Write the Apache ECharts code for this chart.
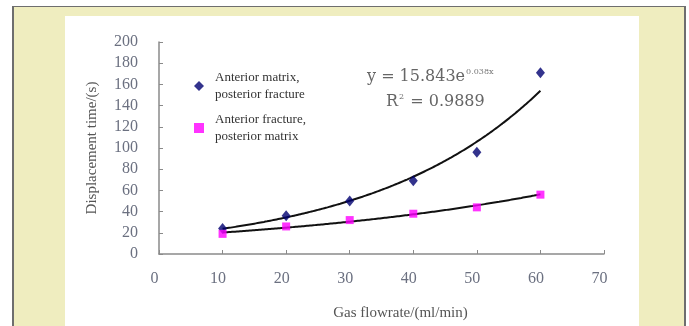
<!DOCTYPE html>
<html>
<head>
<meta charset="utf-8">
<script src="https://cdn.jsdelivr.net/npm/echarts@6/dist/echarts.min.js"></script>
<style>
  html, body { margin: 0; padding: 0; background: #ffffff; width: 689px; height: 326px; overflow: hidden; }
  #frame { position: absolute; left: 12px; top: 6px; width: 670px; height: 330px; background: #efedbf; border-left: 2px solid #6e6e6e; border-top: 1px solid #6e6e6e; border-right: 2px solid #6e6e6e; }
  #panel { position: absolute; left: 65px; top: 16px; width: 574px; height: 320px; background: #ffffff; }
  #chart { position: absolute; left: 0; top: 0; width: 689px; height: 326px; }
</style>
</head>
<body>
<div id="frame"></div>
<div id="panel"></div>
<div id="chart"></div>
<script>
// ---- data ----
const flowrates = [10, 20, 30, 40, 50, 60];
const seriesMatrixFirst = [24, 36, 50, 69, 96, 171];   // Anterior matrix, posterior fracture
const seriesFractureFirst = [19, 26, 32, 38, 44, 56];  // Anterior fracture, posterior matrix
const seriesNames = ['Anterior matrix,\nposterior fracture', 'Anterior fracture,\nposterior matrix'];
const xTicks = [0, 10, 20, 30, 40, 50, 60, 70];
const yTicks = [0, 20, 40, 60, 80, 100, 120, 140, 160, 180, 200];
const equationMain = 'y = 15.843e';
const equationExp = '0.038x';
const equationR2 = '0.9889';

// exponential least-squares trend fitted to each data series
function expFit(xs, ys) {
  const n = xs.length;
  const lys = ys.map(v => Math.log(v));
  const mx = xs.reduce((a, b) => a + b, 0) / n;
  const my = lys.reduce((a, b) => a + b, 0) / n;
  let num = 0, den = 0;
  for (let i = 0; i < n; i++) { num += (xs[i] - mx) * (lys[i] - my); den += (xs[i] - mx) ** 2; }
  const k = num / den;
  const a = Math.exp(my - k * mx);
  const pts = [];
  const x0 = xs[0], x1 = xs[n - 1];
  for (let x = x0; x <= x1 + 1e-9; x += 0.5) pts.push([x, a * Math.exp(k * x)]);
  return pts;
}

const serif = '"Liberation Serif", "DejaVu Serif", "Times New Roman", serif';
const wideSerif = '"DejaVu Serif", "Liberation Serif", serif';
const labelColor = '#6b7080';
const axisColor = '#8a8a8a';

const chart = echarts.init(document.getElementById('chart'), null, { renderer: 'canvas' });
chart.setOption({
  backgroundColor: 'transparent',
  animation: false,
  grid: { left: 159, right: 85, top: 42, bottom: 64, containLabel: false },
  xAxis: {
    type: 'value', min: xTicks[0], max: xTicks[xTicks.length - 1], interval: 10,
    name: 'Gas flowrate/(ml/min)', nameLocation: 'middle', nameGap: 52,
    nameTextStyle: { fontFamily: serif, fontSize: 15, color: '#555555', padding: [0, 0, 0, 38] },
    axisLine: { lineStyle: { color: axisColor, width: 1.5 } },
    axisTick: { inside: true, length: 4, lineStyle: { color: axisColor } },
    axisLabel: { fontFamily: serif, fontSize: 16, color: labelColor, margin: 17, padding: [0, 9, 0, 0] },
    splitLine: { show: false }
  },
  yAxis: {
    type: 'value', min: yTicks[0], max: yTicks[yTicks.length - 1], interval: 20,
    name: 'Displacement time/(s)', nameLocation: 'middle', nameGap: 59,
    nameTextStyle: { fontFamily: serif, fontSize: 15, color: '#555555' },
    axisLine: { show: true, lineStyle: { color: axisColor, width: 1.5 } },
    axisTick: { show: true, inside: true, length: 4, lineStyle: { color: axisColor } },
    axisLabel: { fontFamily: serif, fontSize: 16, color: labelColor, margin: 21 },
    splitLine: { show: false }
  },
  legend: {
    orient: 'vertical', left: 194, top: 69, padding: 0, itemGap: 8,
    itemWidth: 10, itemHeight: 10,
    data: [{ name: seriesNames[0], icon: 'diamond' }, { name: seriesNames[1], icon: 'rect' }],
    textStyle: { fontFamily: serif, fontSize: 13, color: '#333333', lineHeight: 17, padding: [0, 0, 0, 6] }
  },
  graphic: [
    {
      type: 'text', left: 367, top: 68, silent: true,
      style: {
        text: '{m|' + equationMain + '}{s|' + equationExp + '}',
        rich: {
          m: { fontFamily: wideSerif, fontSize: 16, fill: '#666666' },
          s: { fontFamily: wideSerif, fontSize: 8, fill: '#777777', verticalAlign: 'top', padding: [0, 0, 10, 1] }
        }
      }
    },
    {
      type: 'text', left: 386, top: 93, silent: true,
      style: {
        text: '{m|R}{s|2}{m| = ' + equationR2 + '}',
        rich: {
          m: { fontFamily: wideSerif, fontSize: 16, fill: '#666666' },
          s: { fontFamily: wideSerif, fontSize: 8, fill: '#666666', padding: [0, 1, 10, 1] }
        }
      }
    }
  ],
  series: [
    {
      type: 'line', data: expFit(flowrates, seriesMatrixFirst), showSymbol: false, symbol: 'none',
      smooth: true, lineStyle: { color: '#111111', width: 2 }, silent: true, z: 1
    },
    {
      type: 'line', data: expFit(flowrates, seriesFractureFirst), showSymbol: false, symbol: 'none',
      smooth: true, lineStyle: { color: '#111111', width: 2 }, silent: true, z: 1
    },
    {
      name: seriesNames[0], type: 'scatter', symbol: 'diamond', symbolSize: [9, 11],
      itemStyle: { color: '#000070' }, z: 3,
      data: flowrates.map((x, i) => [x, seriesMatrixFirst[i]])
    },
    {
      name: seriesNames[1], type: 'scatter', symbol: 'rect', symbolSize: 8,
      itemStyle: { color: '#ff00ff' }, z: 3,
      data: flowrates.map((x, i) => [x, seriesFractureFirst[i]])
    }
  ]
});
</script>
</body>
</html>
